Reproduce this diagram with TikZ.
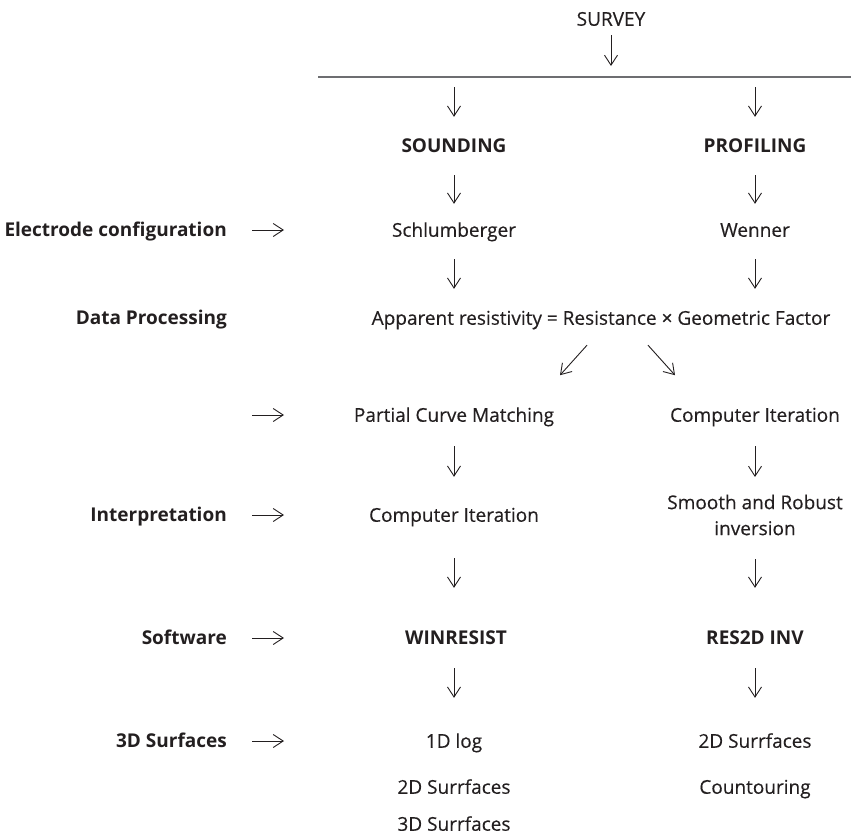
\documentclass[tikz,border=0pt]{standalone}
\usepackage{fontspec}
\setmainfont{Open Sans}[UprightFeatures={FakeBold=0.35}]
\usetikzlibrary{arrows.meta,calc}
\definecolor{ink}{HTML}{231F20}
\definecolor{rulegray}{HTML}{6D6E71}
\begin{document}
\begin{tikzpicture}[x=1pt,y=-1pt,
  txt/.style={inner sep=0pt, text height=13.5pt, text depth=0pt, text=ink, font=\fontsize{19}{23}\selectfont},
  btxt/.style={txt, font=\fontsize{19}{23}\selectfont\bfseries},
  lbl/.style={btxt, anchor=east},
  twoline/.style={inner sep=0pt, text=ink, align=center, font=\fontsize{19}{26}\selectfont},
  arr/.style={draw=ink, line width=0.9pt, -{Straight Barb[length=10pt,width=13pt,line width=0.9pt]}},
  hrule/.style={draw=rulegray, line width=1.5pt},
]
\useasboundingbox (0,0) rectangle (851,835);

% top
\node[txt] (survey) at (611,19) {SURVEY};
\coordinate (hlstart) at (318,77);
\coordinate (hlend) at (851,77);
\coordinate (hlmid) at (611,77);
\coordinate (hlL) at (454,77);
\coordinate (hlR) at (755,77);
\draw[hrule] (hlstart) -- (hlend);
\draw[arr, shorten <=9.25pt, shorten >=11pt] (survey) -- (hlmid);

% row 1
\node[btxt] (sound) at (454,146) {SOUNDING};
\node[btxt] (prof) at (755,146) {PROFILING};
\draw[arr, shorten <=10pt, shorten >=22.25pt] (hlL) -- (sound);
\draw[arr, shorten <=10pt, shorten >=22.25pt] (hlR) -- (prof);

% row 2
\node[lbl] (elec) at (227,230) {Electrode configuration};
\coordinate (elecend) at (284,230);
\node[txt] (schl) at (454,230) {Schlumberger};
\node[txt] (wen) at (755,230) {Wenner};
\draw[arr, shorten <=25pt] (elec.east) -- (elecend);
\draw[arr, shorten <=22.25pt, shorten >=19.25pt] (sound) -- (schl);
\draw[arr, shorten <=22.25pt, shorten >=19.25pt] (prof) -- (wen);

% row 3
\node[lbl] (data) at (227,318) {Data Processing};
\node[txt] (app) at (601,318) {Apparent resistivity = Resistance × Geometric Factor};
\draw[arr, shorten <=22.25pt, shorten >=22.25pt] (schl) -- (schl |- app.north);
\draw[arr, shorten <=22.25pt, shorten >=22.25pt] (wen) -- (wen |- app.north);

% row 4
\coordinate (r4a) at (252,415);
\coordinate (r4b) at (284,415);
\node[txt] (pcm) at (454,415) {Partial Curve Matching};
\node[txt] (ciR) at (755,415) {Computer Iteration};
\draw[arr] (r4a) -- (r4b);
\draw[arr] ($(app.south)+(-14,20.25)$) -- ($(app.south)+(-41,50.25)$);
\draw[arr] ($(app.south)+(47,20.25)$) -- ($(app.south)+(74,50.25)$);

% row 5
\node[lbl] (interp) at (227,515) {Interpretation};
\coordinate (interpend) at (284,515);
\node[txt] (ciL) at (454,515) {Computer Iteration};
\node[twoline] (smooth) at (755,515) {Smooth and Robust\\inversion};
\draw[arr, shorten <=24.25pt, shorten >=31.25pt] (pcm) -- (ciL);
\draw[arr, shorten <=25pt] (interp.east) -- (interpend);
\draw[arr, shorten <=24.25pt, shorten >=17.5pt] (ciR) -- (smooth);

% row 6
\node[lbl] (soft) at (227,638) {Software};
\coordinate (softend) at (284,638);
\node[btxt] (win) at (456,638) {WINRESIST};
\node[btxt] (res) at (755,638) {RES2D INV};
\draw[arr, shorten <=25pt] (soft.east) -- (softend);
\draw[arr, shorten <=36.25pt, shorten >=43.25pt] (ciL) -- (ciL |- win.north);
\draw[arr, shorten <=23.5pt, shorten >=43.25pt] (smooth) -- (res);

% row 7
\node[lbl] (surf) at (227,741) {3D Surfaces};
\coordinate (surfend) at (284,741);
\node[txt] (oned) at (454,741) {1D log};
\node[txt] (twodL) at (454,787) {2D Surrfaces};
\node[txt] (threedL) at (454,824) {3D Surrfaces};
\node[txt] (twodR) at (755,741) {2D Surrfaces};
\node[txt] (cont) at (755,787) {Countouring};
\draw[arr, shorten <=25pt] (surf.east) -- (surfend);
\draw[arr, shorten <=23.25pt, shorten >=36.25pt] (win.south -| oned) -- (oned);
\draw[arr, shorten <=23.25pt, shorten >=36.25pt] (res) -- (twodR);
\end{tikzpicture}
\end{document}
